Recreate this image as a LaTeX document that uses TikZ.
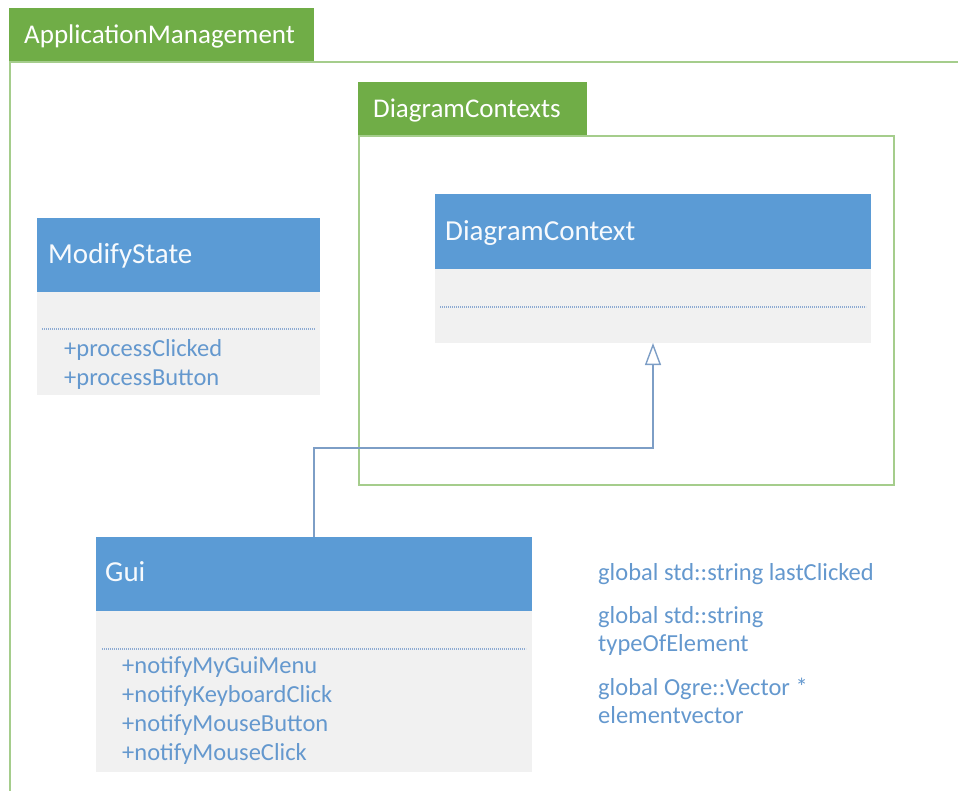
\documentclass[tikz,border=0pt]{standalone}
\usepackage{fontspec}
\setmainfont{Carlito}
\usetikzlibrary{arrows.meta}
\definecolor{pkgfill}{RGB}{112,173,71}
\definecolor{pkgline}{RGB}{165,205,140}
\definecolor{clshead}{RGB}{91,155,213}
\definecolor{clsbody}{RGB}{241,241,241}
\definecolor{membertext}{RGB}{100,152,206}
\definecolor{dotline}{RGB}{140,170,210}
\definecolor{linkcolor}{RGB}{125,158,198}
\tikzset{
  box/.style={draw=none, inner sep=0pt, outer sep=0pt, anchor=north west},
  tab/.style={box, fill=pkgfill},
  head/.style={box, fill=clshead},
  body/.style={box, fill=clsbody},
  frameline/.style={draw=pkgline, line width=2pt},
  tabtext/.style={anchor=base west, inner sep=0pt, text=white, font=\fontsize{27}{31}\selectfont},
  headtext/.style={anchor=base west, inner sep=0pt, text=white!95!clshead, font=\fontsize{29}{34}\selectfont},
  membertxt/.style={anchor=base west, inner sep=0pt, text=membertext, font=\fontsize{24.5}{29}\selectfont},
  sep/.style={draw=dotline, line width=1.2pt, dash pattern=on 1.2pt off 0.8pt},
  link/.style={draw=linkcolor, line width=1.6pt}
}
\begin{document}
\begin{tikzpicture}[x=1pt, y=-1pt]
\useasboundingbox (0,0) rectangle (958,790);
\begin{scope}
\clip (0,0) rectangle (958,790);

% ApplicationManagement package
\node[tab, minimum width=305pt, minimum height=54pt] (amtab) at (9,8) {};
\node[tabtext] (amlabel) at (24,43) {ApplicationManagement};
\draw[frameline] (10,800) -- (10,62) -- (970,62);

% DiagramContexts package
\node[tab, minimum width=229pt, minimum height=54pt] (dctab) at (358,82) {};
\node[tabtext] (dclabel) at (373,117) {DiagramContexts};
\node[box, draw=pkgline, line width=2pt, minimum width=535pt, minimum height=349pt] (dcframe) at (359,136) {};

% DiagramContext class
\node[head, minimum width=436pt, minimum height=75pt] (dchead) at (435,194) {};
\node[body, minimum width=436pt, minimum height=74pt] (dcbody) at (435,269) {};
\node[headtext] (dcname) at (445,240.5) {DiagramContext};
\draw[sep] (440,307) -- (866,307);

% ModifyState class
\node[head, minimum width=283pt, minimum height=74pt] (mshead) at (37,218) {};
\node[body, minimum width=283pt, minimum height=103pt] (msbody) at (37,292) {};
\node[headtext] (msname) at (48,263.5) {ModifyState};
\draw[sep] (42,329) -- (315,329);
\node[membertxt] (ms1) at (64,356) {+processClicked};
\node[membertxt] (ms2) at (64,385) {+processButton};

% Gui class
\node[head, minimum width=436pt, minimum height=74pt] (guihead) at (96,537) {};
\node[body, minimum width=436pt, minimum height=161pt] (guibody) at (96,611) {};
\node[headtext] (guiname) at (105,581.5) {Gui};
\draw[sep] (102,649) -- (526,649);
\node[membertxt] (g1) at (122,673) {+notifyMyGuiMenu};
\node[membertxt] (g2) at (122,702) {+notifyKeyboardClick};
\node[membertxt] (g3) at (122,731) {+notifyMouseButton};
\node[membertxt] (g4) at (122,760) {+notifyMouseClick};

% Globals
\node[membertxt] (gl1) at (598,580) {global std::string lastClicked};
\node[membertxt] (gl2a) at (598,623) {global std::string};
\node[membertxt] (gl2b) at (598,651) {typeOfElement};
\node[membertxt] (gl3a) at (598,695) {global Ogre::Vector *};
\node[membertxt] (gl3b) at (598,723) {elementvector};

% Generalisation Gui -> DiagramContext
\coordinate (bend) at (guihead.north |- 0,448);
\draw[link, -{Triangle[open, length=22pt, width=16pt, line width=1.4pt]}]
  (guihead.north) -- (bend) -| (dcbody.south);
\end{scope}
\end{tikzpicture}
\end{document}
